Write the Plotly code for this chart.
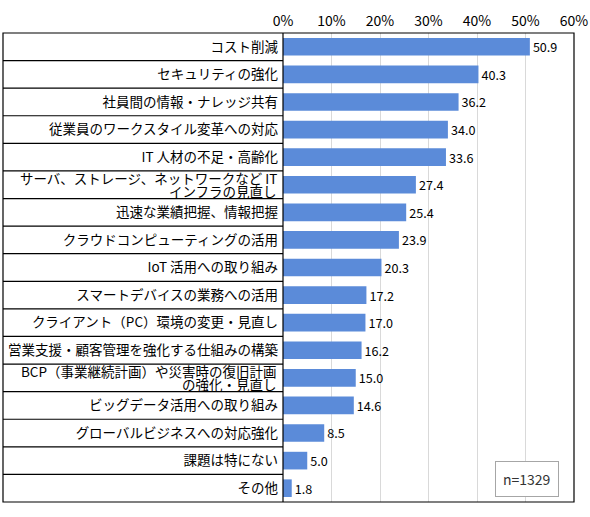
import plotly.graph_objects as go

# survey answers, top to bottom ("\n" = line break inside a label)
categories = [
    "コスト削減",
    "セキュリティの強化",
    "社員間の情報・ナレッジ共有",
    "従業員のワークスタイル変革への対応",
    "IT 人材の不足・高齢化",
    "サーバ、ストレージ、ネットワークなど IT\nインフラの見直し",
    "迅速な業績把握、情報把握",
    "クラウドコンピューティングの活用",
    "IoT 活用への取り組み",
    "スマートデバイスの業務への活用",
    "クライアント（PC）環境の変更・見直し",
    "営業支援・顧客管理を強化する仕組みの構築",
    "BCP（事業継続計画）や災害時の復旧計画\nの強化・見直し",
    "ビッグデータ活用への取り組み",
    "グローバルビジネスへの対応強化",
    "課題は特にない",
    "その他",
]
values = [50.9, 40.3, 36.2, 34.0, 33.6, 27.4, 25.4, 23.9, 20.3,
          17.2, 17.0, 16.2, 15.0, 14.6, 8.5, 5.0, 1.8]
x_ticks = [0, 10, 20, 30, 40, 50, 60]
sample_note = "n=1329"

FONT = "Noto Sans CJK JP"
LABEL_SIZE = 13.5

fig = go.Figure(go.Bar(
    x=values,
    y=categories,
    orientation="h",
    marker=dict(color="#5B8BD9", line=dict(width=0)),
    text=["{:.1f}".format(v) for v in values],
    textposition="outside",
    textfont=dict(family=FONT, size=15, color="black"),
    cliponaxis=False,
    width=0.64,
))

fig.update_xaxes(
    range=[0, 60], side="top",
    tickmode="array", tickvals=x_ticks,
    ticktext=["{}%".format(t) for t in x_ticks],
    showgrid=True, gridcolor="#d9d9d9", gridwidth=1,
    zeroline=False, showline=False, automargin=False,
    tickfont=dict(family=FONT, size=14, color="black"),
    ticklabelstandoff=3,
)
# single line labels go through the axis, two line ones are drawn below
# with tighter line spacing than plotly's tick labels allow
fig.update_yaxes(
    autorange="reversed", showgrid=False, zeroline=False,
    showline=False, ticks="", automargin=False,
    tickmode="array", tickvals=categories,
    ticktext=["" if "\n" in c else c for c in categories],
    tickfont=dict(family=FONT, size=LABEL_SIZE, color="black"),
    ticklabelstandoff=4,
)

annotations = []
for c in categories:
    if "\n" not in c:
        continue
    first, second = c.split("\n")
    for line, shift in ((first, 6.5), (second, -6.5)):
        annotations.append(dict(
            text=line, xref="paper", yref="y", x=0, y=c,
            xanchor="right", yanchor="middle", xshift=-4, yshift=shift,
            showarrow=False,
            font=dict(family=FONT, size=LABEL_SIZE, color="black"),
        ))

annotations.append(dict(
    text=sample_note, xref="paper", yref="paper",
    x=0.838, y=0.048, xanchor="center", yanchor="middle",
    showarrow=False,
    font=dict(family=FONT, size=14, color="#333333"),
    bordercolor="#a6a6a6", borderwidth=1, borderpad=7,
    bgcolor="white",
))

# the table lines in the label column and the outer frame
left = -280 / 291
shapes = []
for i in range(len(categories) - 1):
    shapes.append(dict(type="line", xref="paper", yref="y",
                       x0=left, x1=0, y0=i + 0.5, y1=i + 0.5,
                       line=dict(color="black", width=1.2)))
shapes.append(dict(type="rect", xref="paper", yref="paper",
                   x0=left, x1=1, y0=0, y1=1,
                   line=dict(color="black", width=1.2)))
shapes.append(dict(type="line", xref="paper", yref="paper",
                   x0=0, x1=0, y0=0, y1=1,
                   line=dict(color="black", width=1.2)))

fig.update_layout(
    width=590, height=517,
    margin=dict(l=283, r=16, t=33, b=15),
    paper_bgcolor="white", plot_bgcolor="white",
    showlegend=False,
    shapes=shapes,
    annotations=annotations,
)

# page body has a default 8px margin, drop it so the chart sits at 0,0
fig.write_html("out.html", config={"displayModeBar": False},
               post_script="document.body.style.margin='0';")
